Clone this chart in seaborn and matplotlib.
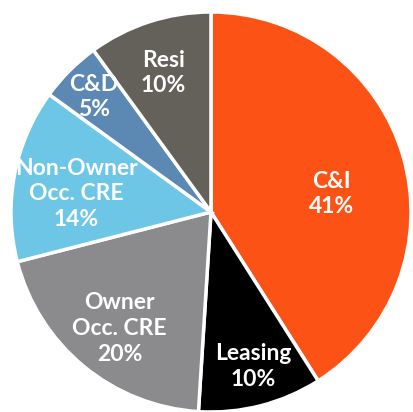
import numpy as np
import seaborn as sns
import matplotlib
matplotlib.use("Agg")
import matplotlib.pyplot as plt

segments = ["C&I", "Leasing", "Owner\nOcc. CRE", "Non-Owner\nOcc. CRE", "C&D", "Resi"]
shares = [41, 10, 20, 14, 5, 10]
colors = ["#FC5216", "#000000", "#8B8B8D", "#6EC6E6", "#5C88B4", "#64615B"]

# label placement: fraction of radius and angle nudge (deg) from wedge middle
label_dist = [0.61, 0.80, 0.74, 0.68, 0.82, 0.735]
label_shift = [-7.7, 0.9, 1.5, 3.1, 0.5, 1.0]

sns.set_style("white")
plt.rcParams["font.family"] = ["Lato", "DejaVu Sans"]

fig = plt.figure(figsize=(4.13, 4.12), dpi=100)
ax = fig.add_axes([0, 0, 1, 1])
wedges, _ = ax.pie(shares, colors=colors, startangle=90, counterclock=False,
                   wedgeprops={"edgecolor": "white", "linewidth": 2.5})

for w, name, pct, d, s in zip(wedges, segments, shares, label_dist, label_shift):
    mid = np.deg2rad((w.theta1 + w.theta2) / 2 + s)
    ax.text(d * np.cos(mid), d * np.sin(mid), f"{name}\n{pct}%",
            ha="center", va="center", color="white", fontsize=16.5,
            fontweight="bold", linespacing=1.27)

ax.set_xlim(-1.055, 1.01)
ax.set_ylim(-1.0, 1.06)
ax.set_aspect("equal")
ax.axis("off")
fig.savefig("out.png", dpi=100)
